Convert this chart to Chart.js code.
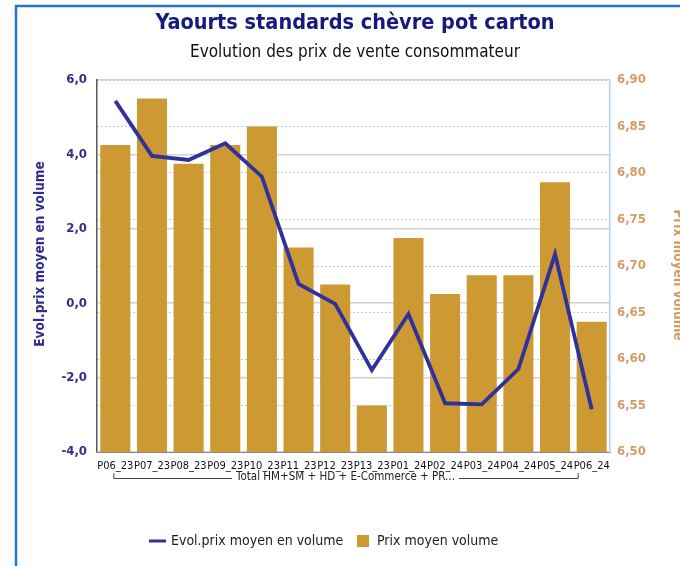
<!DOCTYPE html>
<html>
<head>
<meta charset="utf-8">
<script src="https://cdn.jsdelivr.net/npm/chart.js@4/dist/chart.umd.min.js"></script>
<style>
  html, body { margin: 0; padding: 0; background: #ffffff; }
  #wrap { width: 680px; height: 566px; }
</style>
</head>
<body>
<div id="wrap"><canvas id="c" width="680" height="566"></canvas></div>
<script>
// Periods (4-week periods)
const periods = ['P06_23', 'P07_23', 'P08_23', 'P09_23', 'P10_23', 'P11_23', 'P12_23',
                 'P13_23', 'P01_24', 'P02_24', 'P03_24', 'P04_24', 'P05_24', 'P06_24'];
// Evolution of the average volume price (%), left axis
const evolPrix = [5.44, 3.96, 3.85, 4.30, 3.40, 0.52, -0.02, -1.80, -0.29, -2.69, -2.72, -1.77, 1.32, -2.85];
// Average volume price (EUR), right axis
const prixMoyen = [6.83, 6.88, 6.81, 6.83, 6.85, 6.72, 6.68, 6.55, 6.73, 6.67, 6.69, 6.69, 6.79, 6.64];

// Axis ranges
const leftRange = { min: -4, max: 6, step: 2 };
const rightRange = { min: 6.5, max: 6.9, step: 0.05 };

const titleText = 'Yaourts standards chèvre pot carton';
const subtitleText = 'Evolution des prix de vente consommateur';
const leftAxisTitle = 'Evol.prix moyen en volume';
const rightAxisTitle = 'Prix moyen volume';
const groupLabel = 'Total HM+SM + HD + E-Commerce + PR...';

const FONT = '"DejaVu Sans Condensed", "DejaVu Sans", sans-serif';
const NAVY = '#141a7e';
const LINE_BLUE = '#30319a';
const BAR_GOLD = '#cc9933';
const TICK_LEFT = '#2e2e8e';
const TICK_RIGHT = '#d29c66';

const fmt = (v, d) => v.toFixed(d).replace('.', ',');

// Frame, titles, axis titles, category bracket and legend
const decorations = {
  id: 'decorations',
  beforeDraw(chart) {
    const ctx = chart.ctx;
    ctx.save();
    ctx.fillStyle = '#ffffff';
    ctx.fillRect(0, 0, chart.width, chart.height);
    ctx.strokeStyle = '#2a72c6';
    ctx.lineWidth = 2.5;
    ctx.strokeRect(16, 6, 720, 620);
    ctx.restore();
  },
  afterDraw(chart) {
    const ctx = chart.ctx;
    ctx.save();
    ctx.textBaseline = 'middle';
    ctx.textAlign = 'center';

    ctx.fillStyle = NAVY;
    ctx.font = 'bold 21.5px ' + FONT;
    ctx.fillText(titleText, 355, 23);

    ctx.fillStyle = '#111111';
    ctx.font = '17px ' + FONT;
    ctx.fillText(subtitleText, 355, 53);

    // left axis title
    ctx.save();
    ctx.translate(40, 254);
    ctx.rotate(-Math.PI / 2);
    ctx.fillStyle = TICK_LEFT;
    ctx.font = 'bold 13.5px ' + FONT;
    ctx.fillText(leftAxisTitle, 0, 0);
    ctx.restore();

    // right axis title
    ctx.save();
    ctx.translate(677, 275);
    ctx.rotate(Math.PI / 2);
    ctx.fillStyle = TICK_RIGHT;
    ctx.font = 'bold 13.5px ' + FONT;
    ctx.fillText(rightAxisTitle, 0, 0);
    ctx.restore();

    // bracket grouping all periods
    const x = chart.scales.x;
    const x0 = x.getPixelForValue(0) - 2;
    const x1 = x.getPixelForValue(periods.length - 1) - 14;
    const by = 478;
    ctx.font = '11.5px ' + FONT;
    const tw = ctx.measureText(groupLabel).width;
    const cx = (x0 + x1) / 2;
    ctx.strokeStyle = '#444444';
    ctx.lineWidth = 1;
    ctx.beginPath();
    ctx.moveTo(x0 + 0.5, by - 5);
    ctx.lineTo(x0 + 0.5, by + 0.5);
    ctx.lineTo(cx - tw / 2 - 4, by + 0.5);
    ctx.moveTo(cx + tw / 2 + 4, by + 0.5);
    ctx.lineTo(x1 + 0.5, by + 0.5);
    ctx.lineTo(x1 + 0.5, by - 5);
    ctx.stroke();
    ctx.fillStyle = '#222222';
    ctx.fillText(groupLabel, cx, by - 1);

    // legend
    const ly = 541;
    ctx.font = '14px ' + FONT;
    ctx.textAlign = 'left';
    ctx.strokeStyle = LINE_BLUE;
    ctx.lineWidth = 3;
    ctx.beginPath();
    ctx.moveTo(149, ly);
    ctx.lineTo(166, ly);
    ctx.stroke();
    ctx.fillStyle = '#222222';
    ctx.fillText(chart.data.datasets[0].label, 171, ly);
    ctx.fillStyle = BAR_GOLD;
    ctx.fillRect(357, ly - 6, 12, 12);
    ctx.fillStyle = '#222222';
    ctx.fillText(chart.data.datasets[1].label, 377, ly);
    ctx.restore();
  }
};

new Chart(document.getElementById('c'), {
  data: {
    labels: periods,
    datasets: [
      {
        type: 'line',
        label: 'Evol.prix moyen en volume',
        data: evolPrix,
        yAxisID: 'y',
        borderColor: LINE_BLUE,
        borderWidth: 3.8,
        pointRadius: 0,
        tension: 0,
        order: 0
      },
      {
        type: 'bar',
        label: 'Prix moyen volume',
        data: prixMoyen,
        yAxisID: 'y1',
        backgroundColor: BAR_GOLD,
        categoryPercentage: 1,
        barPercentage: 0.82,
        order: 1
      }
    ]
  },
  options: {
    responsive: false,
    animation: false,
    devicePixelRatio: 1,
    layout: { padding: { left: 20, right: 0, top: 80, bottom: 84 } },
    plugins: {
      legend: { display: false },
      title: { display: false },
      tooltip: { enabled: false }
    },
    scales: {
      x: {
        grid: { display: false, drawTicks: false },
        border: { color: '#8a8a8a', width: 1 },
        ticks: {
          color: '#111111',
          font: { family: FONT, size: 11 },
          padding: 8,
          maxRotation: 0,
          autoSkip: false
        },
        afterFit(s) { s.height = 30; }
      },
      y: {
        position: 'left',
        min: leftRange.min,
        max: leftRange.max,
        grid: { color: '#d2d2d2', lineWidth: 1.5, drawTicks: false },
        border: { color: '#5a5a5a', width: 1.5 },
        ticks: {
          stepSize: leftRange.step,
          color: TICK_LEFT,
          font: { family: FONT, size: 13, weight: 'bold' },
          padding: 10,
          callback: v => fmt(v, 1)
        },
        afterFit(s) { s.width = 77; }
      },
      y1: {
        position: 'right',
        min: rightRange.min,
        max: rightRange.max,
        grid: { color: '#a9d2f4', lineWidth: 1, drawTicks: false, drawOnChartArea: true },
        border: { color: '#a9d2f4', width: 1.5, dash: [2, 2] },
        ticks: {
          stepSize: rightRange.step,
          color: TICK_RIGHT,
          font: { family: FONT, size: 13, weight: 'bold' },
          padding: 7,
          callback: v => fmt(v, 2)
        },
        afterFit(s) { s.width = 70; }
      }
    }
  },
  plugins: [decorations]
});
</script>
</body>
</html>
